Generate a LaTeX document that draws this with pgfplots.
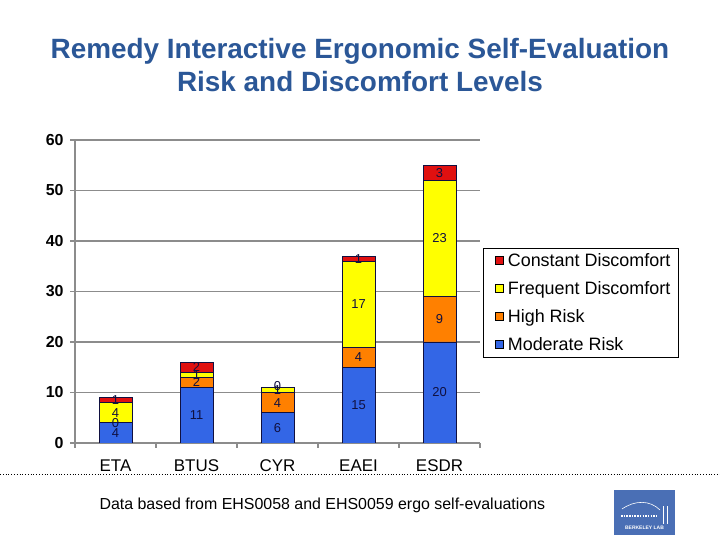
\documentclass[border=0pt]{standalone}
\usepackage{pgfplots}
\pgfplotsset{compat=1.18}
\usepackage{fontspec}
\setmainfont{Liberation Sans}
\definecolor{titleblue}{HTML}{2B5797}
\definecolor{modblue}{HTML}{3366E6}
\definecolor{highor}{HTML}{FF8000}
\definecolor{freqyel}{HTML}{FFFF00}
\definecolor{constred}{HTML}{E01010}
\definecolor{edge}{HTML}{101040}
\definecolor{gridgray}{HTML}{8C8C8C}
\definecolor{logoblue}{HTML}{4A6FB5}

% values: ETA BTUS CYR EAEI ESDR
\pgfplotstableread{
x y
0 4
1 11
2 6
3 15
4 20
}\moderate
\pgfplotstableread{
x y
0 0
1 2
2 4
3 4
4 9
}\high
\pgfplotstableread{
x y
0 4
1 1
2 1
3 17
4 23
}\frequent
\pgfplotstableread{
x y
0 1
1 2
2 0
3 1
4 3
}\constant
% label positions (segment middles) and texts
\pgfplotstableread{
x y lab
0 2 4
0 4 0
0 6 4
0 8.5 1
1 5.5 11
1 12 2
1 13.5 1
1 15 2
2 3 6
2 8 4
2 10.5 1
2 11.2 0
3 7.5 15
3 17 4
3 27.5 17
3 36.5 1
4 10 20
4 24.5 9
4 40.5 23
4 53.5 3
}\labels

\pgfplotsset{
  base/.style={
    width=405bp, height=303bp, scale only axis,
    at={(75bp,97bp)}, anchor=south west,
    xmin=-0.5, xmax=4.5, ymin=0, ymax=60,
  },
}

\begin{document}
\begin{tikzpicture}[x=1bp,y=1bp]
\path[use as bounding box] (0,0) rectangle (720,540);

\node[font=\fontsize{28}{34}\selectfont\bfseries, text=titleblue, align=center]
  at (360,475) {Remedy Interactive Ergonomic Self-Evaluation\\Risk and Discomfort Levels};

\begin{axis}[base,
  ybar stacked, bar width=33bp,
  axis lines*=left,
  axis line style={gridgray, line width=1.3pt},
  ymajorgrids, grid style={gridgray, line width=1.3pt},
  ytick={0,10,...,60},
  /pgf/number format/assume math mode=true,
  yticklabel style={font=\fontsize{16}{18}\selectfont\bfseries, xshift=-3bp},
  xtick={-0.5,0.5,...,4.5}, xticklabels={},
  extra x ticks={0,1,2,3,4},
  extra x tick labels={ETA,BTUS,CYR,EAEI,ESDR},
  extra x tick style={major tick length=0pt, grid=none,
    tick label style={font=\fontsize{17}{19}\selectfont, yshift=-13bp}},
  tick align=outside, major tick length=5bp,
  tick style={gridgray, line width=1.3pt},
  reverse legend,
  legend style={at={(1.0074,0.644)}, anchor=north west, draw=black,
    font=\fontsize{18}{20}\selectfont, row sep=9.6bp, inner xsep=4bp, inner ysep=3bp,
    nodes={inner xsep=4bp}},
  legend cell align=left,
  legend image code/.code={\path (-7bp,0bp);
    \draw[#1, draw=black, line width=0.5pt] (1bp,-4bp) rectangle (9bp,4bp);},
  every axis plot/.append style={draw=edge, line width=0.8pt},
]
\addplot[fill=modblue] table[x=x,y=y] {\moderate};
\addplot[fill=highor] table[x=x,y=y] {\high};
\addplot[fill=freqyel] table[x=x,y=y] {\frequent};
\addplot[fill=constred] table[x=x,y=y] {\constant};
\legend{Moderate Risk,High Risk,Frequent Discomfort,Constant Discomfort}
\end{axis}

\begin{axis}[base, hide axis]
\addplot[draw=none, nodes near coords, point meta=explicit symbolic,
  nodes near coords align={center},
  every node near coord/.append style={font=\fontsize{13}{15}\selectfont, text=edge, inner sep=0pt}]
  table[x=x, y=y, meta=lab] {\labels};
\end{axis}

\draw[dotted, line width=0.8pt] (0,66) -- (720,66);
\node[font=\fontsize{16}{19}\selectfont, anchor=west] at (96,35)
  {Data based from EHS0058 and EHS0059 ergo self-evaluations};

\fill[logoblue] (614,5) rectangle (675,50);
\draw[white, line width=0.6pt] (622,31) .. controls (635,40) and (650,40) .. (660,30);
\draw[white, dash pattern=on 1.5pt off 1.2pt, line width=1.6pt] (621,24) -- (656,24);
\draw[white, line width=0.6pt] (663,16) -- (663,34) (667,16) -- (667,34);
\node[white, font=\fontsize{5}{6}\selectfont\bfseries] at (644.5,12) {BERKELEY LAB};
\end{tikzpicture}
\end{document}
